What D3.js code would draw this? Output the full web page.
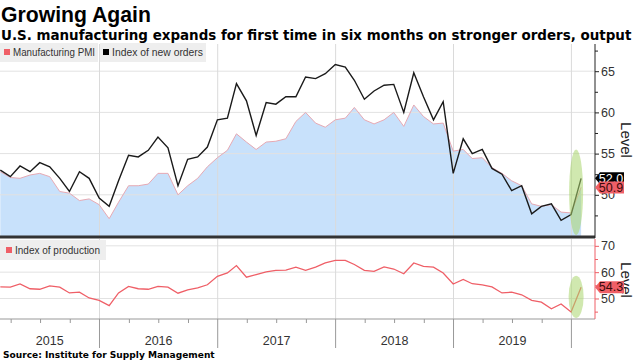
<!DOCTYPE html>
<html><head><meta charset="utf-8">
<script src="https://cdn.jsdelivr.net/npm/d3@7"></script>
<style>body{margin:0;background:#fff} svg{display:block}</style>
</head><body><svg id="c" width="640" height="360"></svg>
<script>
const months = ["2015-02","2015-03","2015-04","2015-05","2015-06","2015-07","2015-08","2015-09","2015-10","2015-11","2015-12",
"2016-01","2016-02","2016-03","2016-04","2016-05","2016-06","2016-07","2016-08","2016-09","2016-10","2016-11","2016-12",
"2017-01","2017-02","2017-03","2017-04","2017-05","2017-06","2017-07","2017-08","2017-09","2017-10","2017-11","2017-12",
"2018-01","2018-02","2018-03","2018-04","2018-05","2018-06","2018-07","2018-08","2018-09","2018-10","2018-11","2018-12",
"2019-01","2019-02","2019-03","2019-04","2019-05","2019-06","2019-07","2019-08","2019-09","2019-10","2019-11","2019-12",
"2020-01"];
const newOrders = [53.0,52.2,53.5,52.8,53.9,53.4,52.0,50.4,52.8,52.0,
49.6,48.6,51.7,54.8,54.6,55.4,57.0,55.7,51.1,54.3,
54.6,55.8,59.1,59.3,63.5,61.4,57.2,61.2,61.0,61.9,
61.9,64.3,64.1,64.7,65.8,65.5,63.9,61.6,62.6,63.3,
63.4,60.0,64.8,61.9,59.1,61.3,52.6,56.8,55.0,55.5,
53.2,52.5,50.5,51.1,47.7,48.6,48.9,46.9,47.6,52.0];
const pmi = [52.8,52.1,52.0,52.4,52.6,52.2,50.4,50.2,49.3,49.5,
48.8,47.1,49.1,51.1,51.1,51.3,52.6,52.6,50.0,51.1,
52.0,53.4,54.5,55.4,57.4,56.4,55.5,56.4,56.5,56.8,
58.9,60.0,58.7,58.2,59.1,59.3,60.6,59.1,58.6,59.1,
60.0,58.3,60.9,59.5,58.6,58.7,55.3,55.5,54.4,54.5,
53.3,52.6,51.7,51.1,48.9,48.6,48.8,47.9,47.8,50.9];
const production = [54.4,54.3,55.5,53.7,53.5,54.8,54.3,52.1,52.4,50.2,
49.3,47.3,52.1,54.6,53.7,53.5,54.6,54.3,52.0,53.3,
54.0,55.2,58.4,59.7,62.5,58.1,59.1,60.1,60.7,60.8,
61.9,60.7,61.9,63.5,64.5,64.5,62.9,60.7,60.3,62.0,
61.2,59.4,63.5,62.2,61.9,59.7,55.5,57.2,55.6,55.2,
54.4,52.1,52.4,51.4,49.3,48.6,46.1,47.9,44.9,54.3];
const yearLabels = ["2015","2016","2017","2018","2019"];
const topTicks = [50,55,60,65];
const topMinor = [47.5,52.5,57.5,62.5,67.5];
const bottomTicks = [50,60,70];
const bottomMinor = [45,55,65];
const legendTop = ["Manufacturing PMI","Index of new orders"];
const legendBottom = ["Index of production"];
const title = "Growing Again";
const subtitle = "U.S. manufacturing expands for first time in six months on stronger orders, output";
const source = "Source: Institute for Supply Management";

const svg = d3.select("#c");
const parseM = d3.timeParse("%Y-%m");
const dates = months.map(m => d3.timeDay.offset(d3.timeMonth.offset(parseM(m),1),-1));
const W = 595;
const x = d3.scaleTime().domain([new Date(2015,1,27), new Date(2020,2,14)]).range([0, W]);
const yT = d3.scaleLinear().domain([45, 68.3]).range([236, 44]);
const yB = d3.scaleLinear().domain([42.2, 72.6]).range([319, 239]);

const C = {blue:"#c8e1fb", red:"#ef5f67", grid:"#e2e2e2", vgrid:"#dadada", green:"#a9d56e"};
const font = "'Liberation Sans', Arial, sans-serif";

function fit(sel, w){ const L = sel.node().getComputedTextLength(); const fs = parseFloat(sel.attr("font-size")); sel.attr("font-size", fs*w/L); }

// titles
fit(svg.append("text").attr("x",1).attr("y",22).attr("font-family",font).attr("font-weight","bold").attr("font-size",20).attr("fill","#000").text(title), 150);
fit(svg.append("text").attr("x",1).attr("y",40).attr("font-family","'DejaVu Sans', sans-serif").attr("font-weight","bold").attr("font-size",13).attr("fill","#000").text(subtitle), 631);
fit(svg.append("text").attr("x",3).attr("y",358).attr("font-family","'DejaVu Sans', sans-serif").attr("font-weight","bold").attr("font-size",10.5).attr("fill","#000").text(source), 212);

const yearStarts = d3.timeYear.range(new Date(2016,0,1), new Date(2020,0,2));

// ---- top panel ----
const area = d3.area().x((d,i)=>x(dates[i])).y0(yT(45)).y1(d=>yT(d));
svg.append("path").datum(pmi).attr("d", area).attr("fill", C.blue);
// gridlines
svg.append("g").selectAll("line").data(topTicks).join("line")
  .attr("x1",0).attr("x2",W).attr("y1",d=>yT(d)).attr("y2",d=>yT(d)).attr("stroke",C.grid).attr("stroke-width",1);
svg.append("g").selectAll("line").data(yearStarts).join("line")
  .attr("x1",d=>x(d)).attr("x2",d=>x(d)).attr("y1",44).attr("y2",236).attr("stroke",C.vgrid).attr("stroke-width",1);
// pmi line
const lineT = d3.line().x((d,i)=>x(dates[i])).y(d=>yT(d));
svg.append("path").datum(pmi).attr("d", lineT).attr("fill","none").attr("stroke","#e7a9b3").attr("stroke-width",1);
svg.append("path").datum(newOrders).attr("d", lineT).attr("fill","none").attr("stroke","#1a1a1a").attr("stroke-width",1.4).attr("stroke-linejoin","miter");
// bottom thick axis of top panel
svg.append("line").attr("x1",0).attr("x2",W).attr("y1",237).attr("y2",237).attr("stroke","#333").attr("stroke-width",3);

// right axis top
const axT = svg.append("g").attr("transform",`translate(${W},0)`)
  .call(d3.axisRight(yT).tickValues(topTicks).tickSize(4).tickPadding(2).tickFormat(d3.format("d")));
axT.select(".domain").attr("d", `M0,44V238`).attr("stroke","#222");
axT.selectAll(".tick line").attr("stroke","#222");
axT.selectAll("text").attr("font-family",font).attr("font-size",12.5).attr("fill","#333");
const axTm = svg.append("g").attr("transform",`translate(${W},0)`)
  .call(d3.axisRight(yT).tickValues(topMinor).tickSize(3).tickFormat(""));
axTm.select(".domain").remove();
axTm.selectAll(".tick line").attr("stroke","#222");

svg.append("text").attr("transform","translate(621,140) rotate(90)").attr("text-anchor","middle")
  .attr("font-family",font).attr("font-size",15).attr("fill","#222").text("Level");

// legend top
const lg = svg.append("g");
lg.append("rect").attr("x",0).attr("y",43).attr("width",98).attr("height",19).attr("fill","#eeeeee");
lg.append("rect").attr("x",100).attr("y",43).attr("width",106).attr("height",19).attr("fill","#eeeeee");
lg.append("rect").attr("x",4).attr("y",49).attr("width",6).attr("height",6).attr("fill",C.red);
lg.append("rect").attr("x",103).attr("y",49).attr("width",6).attr("height",6).attr("fill","#000");
lg.append("text").attr("x",13).attr("y",56).attr("font-family",font).attr("font-size",10.5).attr("fill","#333")
  .attr("textLength",82).attr("lengthAdjust","spacingAndGlyphs").text(legendTop[0]);
lg.append("text").attr("x",112).attr("y",56).attr("font-family",font).attr("font-size",10.5).attr("fill","#333")
  .attr("textLength",91).attr("lengthAdjust","spacingAndGlyphs").text(legendTop[1]);

// ---- bottom panel ----
svg.append("g").selectAll("line").data(bottomTicks).join("line")
  .attr("x1",0).attr("x2",W).attr("y1",d=>yB(d)).attr("y2",d=>yB(d)).attr("stroke",C.grid);
svg.append("g").selectAll("line").data(yearStarts).join("line")
  .attr("x1",d=>x(d)).attr("x2",d=>x(d)).attr("y1",239).attr("y2",319).attr("stroke",C.vgrid);
const lineB = d3.line().x((d,i)=>x(dates[i])).y(d=>yB(d));
svg.append("path").datum(production).attr("d", lineB).attr("fill","none").attr("stroke",C.red).attr("stroke-width",1.3);

// bottom x axis
const quarters = d3.timeMonth.every(3).range(x.domain()[0], x.domain()[1]).filter(d=>d.getMonth()!==0);
const axB = svg.append("g").attr("transform","translate(0,319)")
  .call(d3.axisBottom(x).tickValues(quarters).tickSize(4).tickFormat(""));
axB.select(".domain").attr("d",`M0,0H${W}`).attr("stroke","#999");
axB.selectAll(".tick line").attr("stroke","#999");
svg.append("g").selectAll("line").data(yearStarts).join("line")
  .attr("x1",d=>x(d)).attr("x2",d=>x(d)).attr("y1",319).attr("y2",348).attr("stroke","#999");
// year labels centered on visible span
svg.append("g").selectAll("text").data(yearLabels).join("text")
  .attr("x", d => { const a = Math.max(0, x(new Date(+d,0,1))); const b = Math.min(W, x(new Date(+d+1,0,1))); return (a+b)/2; })
  .attr("y", 345).attr("text-anchor","middle").attr("font-family",font).attr("font-size",12.5).attr("fill","#333").text(d=>d);

// right axis bottom
const axBr = svg.append("g").attr("transform",`translate(${W},0)`)
  .call(d3.axisRight(yB).tickValues(bottomTicks).tickSize(4).tickPadding(2).tickFormat(d3.format("d")));
axBr.select(".domain").attr("d",`M0,239V319`).attr("stroke",C.red);
axBr.selectAll(".tick line").attr("stroke",C.red);
axBr.selectAll("text").attr("font-family",font).attr("font-size",12.5).attr("fill","#333");
const axBm = svg.append("g").attr("transform",`translate(${W},0)`)
  .call(d3.axisRight(yB).tickValues(bottomMinor).tickSize(3).tickFormat(""));
axBm.select(".domain").remove();
axBm.selectAll(".tick line").attr("stroke",C.red);
svg.append("text").attr("transform","translate(621,280) rotate(90)").attr("text-anchor","middle")
  .attr("font-family",font).attr("font-size",15).attr("fill","#222").text("Level");

// legend bottom
svg.append("rect").attr("x",0).attr("y",240).attr("width",106).attr("height",20).attr("fill","#eeeeee");
svg.append("rect").attr("x",6).attr("y",247).attr("width",6).attr("height",6).attr("fill",C.red);
svg.append("text").attr("x",15).attr("y",254).attr("font-family",font).attr("font-size",11).attr("fill","#333")
  .attr("textLength",85).attr("lengthAdjust","spacingAndGlyphs").text(legendBottom[0]);

// highlight ellipses
const n = dates.length;
const cx = (x(dates[n-2]) + x(dates[n-1]))/2;
svg.append("ellipse").attr("cx",cx).attr("cy",(yT(55.5)+yT(45.1))/2).attr("rx",7).attr("ry",(yT(45.1)-yT(55.5))/2)
  .attr("fill",C.green).attr("opacity",0.55);
svg.append("ellipse").attr("cx",cx).attr("cy",(yB(58.6)+yB(42.6))/2).attr("rx",7.5).attr("ry",(yB(42.6)-yB(58.6))/2)
  .attr("fill",C.green).attr("opacity",0.55);

// value tags
function tag(y, txt, fill, col){
  const g = svg.append("g");
  g.append("path").attr("d",`M${W},${y}L${W+5},${y-6}H624V${y+6}H${W+5}Z`).attr("fill",fill);
  g.append("text").attr("x",611).attr("y",y+4.3).attr("text-anchor","middle").attr("font-family",font)
    .attr("font-size",12.5).attr("fill",col).text(txt);
}
tag(yT(newOrders[n-1]), newOrders[n-1].toFixed(1), "#000", "#fff");
tag(yT(pmi[n-1]), pmi[n-1].toFixed(1), C.red, "#3a0a0a");
tag(yB(production[n-1]), production[n-1].toFixed(1), C.red, "#3a0a0a");
</script></body></html>
